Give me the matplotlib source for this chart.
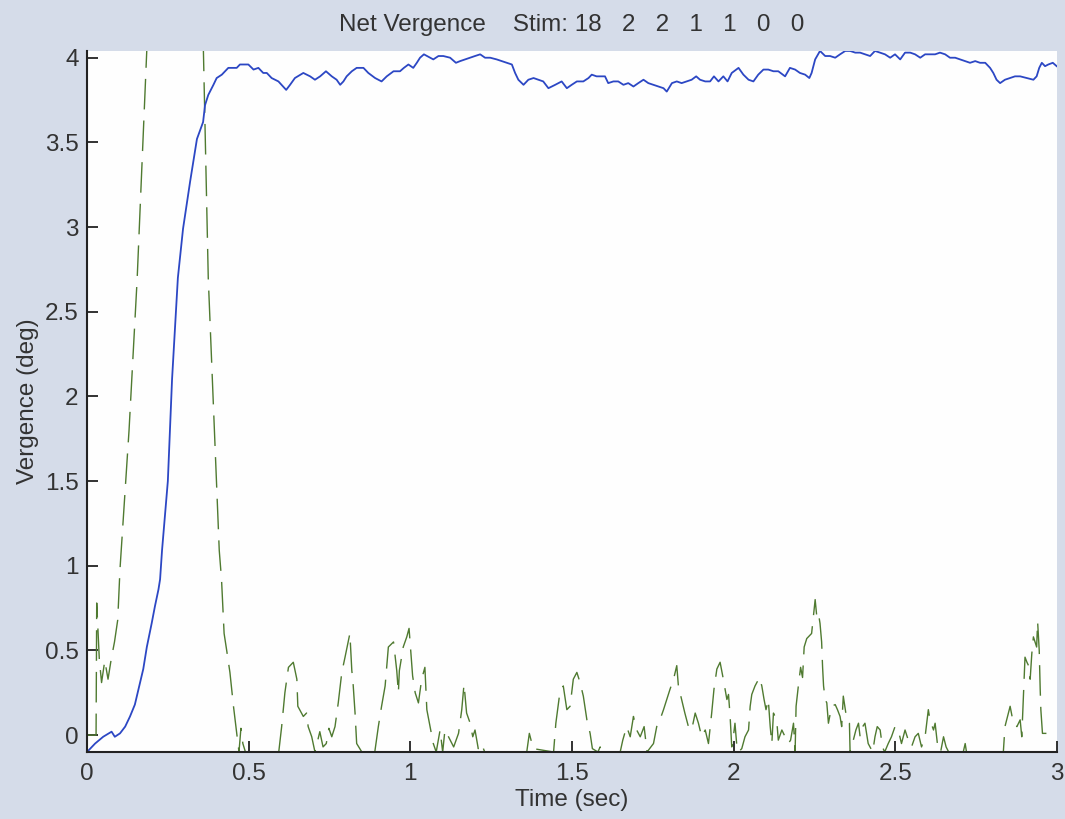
import matplotlib
matplotlib.use("Agg")
import matplotlib.pyplot as plt

# ---------------- data ----------------
title_text = "Net Vergence    Stim: 18   2   2   1   1   0   0"
x_label = "Time (sec)"
y_label = "Vergence (deg)"
x_ticks = [0, 0.5, 1, 1.5, 2, 2.5, 3]
x_tick_labels = ["0", "0.5", "1", "1.5", "2", "2.5", "3"]
y_ticks = [0, 0.5, 1, 1.5, 2, 2.5, 3, 3.5, 4]
y_tick_labels = ["0", "0.5", "1", "1.5", "2", "2.5", "3", "3.5", "4"]

# Net vergence (blue)
t_verg = [0.0, 0.025, 0.05, 0.076, 0.086, 0.102, 0.118, 0.133, 0.148, 0.164, 0.174, 0.185,
          0.2, 0.21, 0.221, 0.226, 0.232, 0.25, 0.263, 0.281, 0.297, 0.319, 0.34, 0.359,
          0.365, 0.375, 0.391, 0.401, 0.417, 0.427, 0.437, 0.463, 0.473, 0.499, 0.515,
          0.53, 0.545, 0.556, 0.571, 0.592, 0.616, 0.628, 0.643, 0.669, 0.69, 0.705,
          0.721, 0.739, 0.757, 0.772, 0.783, 0.793, 0.803, 0.819, 0.834, 0.855, 0.87,
          0.891, 0.911, 0.927, 0.948, 0.968, 0.98, 0.994, 1.009, 1.02, 1.03, 1.042,
          1.061, 1.071, 1.087, 1.102, 1.123, 1.141, 1.154, 1.169, 1.185, 1.2, 1.216,
          1.231, 1.247, 1.267, 1.283, 1.298, 1.314, 1.324, 1.334, 1.35, 1.365, 1.381,
          1.396, 1.411, 1.427, 1.448, 1.468, 1.484, 1.499, 1.515, 1.535, 1.551, 1.561,
          1.576, 1.602, 1.612, 1.628, 1.643, 1.659, 1.674, 1.69, 1.705, 1.721, 1.736,
          1.752, 1.767, 1.783, 1.793, 1.809, 1.824, 1.839, 1.855, 1.87, 1.884, 1.896,
          1.912, 1.927, 1.939, 1.953, 1.968, 1.981, 1.994, 2.015, 2.03, 2.046, 2.061,
          2.076, 2.092, 2.107, 2.123, 2.138, 2.159, 2.174, 2.19, 2.205, 2.221, 2.234,
          2.241, 2.252, 2.267, 2.283, 2.298, 2.314, 2.329, 2.345, 2.36, 2.376, 2.391,
          2.406, 2.422, 2.437, 2.453, 2.468, 2.484, 2.499, 2.515, 2.53, 2.546, 2.561,
          2.577, 2.592, 2.607, 2.623, 2.638, 2.654, 2.669, 2.685, 2.7, 2.716, 2.731,
          2.747, 2.762, 2.778, 2.793, 2.803, 2.813, 2.824, 2.839, 2.855, 2.87, 2.886,
          2.906, 2.927, 2.937, 2.945, 2.953, 2.963, 2.973, 2.987, 2.999]
verg = [-0.1, -0.05, -0.01, 0.02, -0.01, 0.01, 0.05, 0.11, 0.18, 0.31, 0.39, 0.52,
        0.66, 0.76, 0.86, 0.92, 1.09, 1.5, 2.1, 2.7, 2.99, 3.27, 3.52, 3.62,
        3.72, 3.78, 3.84, 3.88, 3.90, 3.92, 3.94, 3.94, 3.96, 3.96, 3.93,
        3.94, 3.91, 3.91, 3.88, 3.86, 3.81, 3.84, 3.88, 3.91, 3.89, 3.87,
        3.89, 3.92, 3.89, 3.87, 3.84, 3.86, 3.89, 3.92, 3.94, 3.94, 3.91,
        3.88, 3.86, 3.89, 3.92, 3.92, 3.94, 3.96, 3.94, 3.97, 4.00, 4.02,
        4.00, 3.99, 4.01, 4.01, 4.00, 3.97, 3.98, 3.99, 4.00, 4.01, 4.02,
        4.00, 4.00, 3.99, 3.98, 3.97, 3.96, 3.91, 3.87, 3.84, 3.87, 3.88,
        3.87, 3.86, 3.82, 3.84, 3.86, 3.82, 3.84, 3.86, 3.86, 3.88, 3.90,
        3.89, 3.89, 3.85, 3.86, 3.86, 3.84, 3.85, 3.83, 3.85, 3.87, 3.85,
        3.84, 3.83, 3.82, 3.80, 3.85, 3.86, 3.85, 3.86, 3.87, 3.89, 3.87,
        3.86, 3.86, 3.89, 3.86, 3.89, 3.86, 3.91, 3.94, 3.90, 3.87, 3.86,
        3.90, 3.93, 3.93, 3.92, 3.92, 3.89, 3.94, 3.93, 3.91, 3.90, 3.88,
        3.91, 3.99, 4.04, 4.01, 4.01, 4.00, 4.02, 4.04, 4.04, 4.03, 4.03,
        4.02, 4.01, 4.04, 4.03, 4.02, 4.00, 4.02, 3.99, 4.03, 4.03, 4.02,
        4.00, 4.02, 4.02, 4.02, 4.03, 4.02, 4.00, 4.00, 3.99, 3.98, 3.97,
        3.98, 3.97, 3.97, 3.94, 3.91, 3.87, 3.85, 3.87, 3.88, 3.89, 3.89,
        3.88, 3.87, 3.89, 3.94, 3.97, 3.95, 3.96, 3.97, 3.95]

# Vergence velocity trace (green dashed, clipped at the axes)
t_vel = [0.0, 0.028, 0.03, 0.038, 0.045, 0.055, 0.065, 0.075, 0.085, 0.095, 0.102, 0.13,
         0.155, 0.185, 0.27, 0.36, 0.375, 0.409, 0.416, 0.424, 0.432, 0.442, 0.453,
         0.463, 0.47, 0.476, 0.482, 0.49, 0.593, 0.602, 0.612, 0.623, 0.638, 0.649,
         0.652, 0.669, 0.679, 0.684, 0.695, 0.705, 0.72, 0.73, 0.74, 0.748, 0.757,
         0.767, 0.777, 0.788, 0.798, 0.813, 0.819, 0.822, 0.829, 0.834, 0.85, 0.89,
         0.901, 0.911, 0.922, 0.932, 0.948, 0.958, 0.963, 0.966, 0.978, 0.989, 0.996,
         1.002, 1.007, 1.015, 1.025, 1.035, 1.045, 1.051, 1.061, 1.071, 1.08, 1.092,
         1.1, 1.107, 1.118, 1.134, 1.149, 1.159, 1.166, 1.174, 1.185, 1.193, 1.2,
         1.21, 1.22, 1.23, 1.36, 1.368, 1.38, 1.443, 1.45, 1.461, 1.473, 1.484,
         1.494, 1.504, 1.515, 1.525, 1.535, 1.546, 1.556, 1.563, 1.58, 1.587, 1.595,
         1.649, 1.657, 1.669, 1.68, 1.69, 1.70, 1.711, 1.723, 1.732, 1.752, 1.762,
         1.772, 1.783, 1.793, 1.803, 1.814, 1.824, 1.829, 1.839, 1.849, 1.86, 1.87,
         1.881, 1.891, 1.901, 1.912, 1.922, 1.932, 1.939, 1.948, 1.958, 1.968, 1.979,
         1.984, 1.989, 1.994, 1.999, 2.004, 2.01, 2.015, 2.025, 2.035, 2.046, 2.051,
         2.056, 2.066, 2.08, 2.087, 2.094, 2.10, 2.107, 2.113, 2.118, 2.123, 2.133,
         2.138, 2.149, 2.159, 2.169, 2.176, 2.185, 2.19, 2.193, 2.2, 2.207, 2.213,
         2.218, 2.226, 2.241, 2.252, 2.257, 2.262, 2.267, 2.272, 2.275, 2.278, 2.283,
         2.288, 2.293, 2.303, 2.314, 2.321, 2.329, 2.334, 2.339, 2.35, 2.358, 2.36,
         2.37, 2.378, 2.386, 2.391, 2.399, 2.406, 2.416, 2.43, 2.437, 2.444, 2.453,
         2.46, 2.467, 2.478, 2.488, 2.499, 2.509, 2.519, 2.53, 2.54, 2.55, 2.561,
         2.571, 2.581, 2.592, 2.602, 2.607, 2.618, 2.623, 2.63, 2.64, 2.649, 2.657,
         2.665, 2.71, 2.716, 2.72, 2.834, 2.839, 2.855, 2.865, 2.876, 2.886, 2.891,
         2.896, 2.901, 2.907, 2.912, 2.917, 2.922, 2.927, 2.937, 2.94, 2.945, 2.948,
         2.95, 2.955, 2.968]
vel = [0.0, 0.0, 0.78, 0.45, 0.31, 0.44, 0.33, 0.45, 0.55, 0.68, 0.98, 1.8,
       2.69, 4.05, 9.0, 4.04, 2.7, 1.09, 0.92, 0.60, 0.50, 0.37, 0.17,
       0.01, -0.1, 0.04, -0.05, -0.1, -0.1, 0.05, 0.25, 0.40, 0.43, 0.33,
       0.17, 0.11, 0.13, 0.05, -0.01, -0.1, 0.02, -0.07, -0.05, 0.04, -0.01,
       0.05, 0.19, 0.37, 0.46, 0.60, 0.38, 0.33, 0.13, -0.05, -0.1, -0.1,
       0.05, 0.17, 0.29, 0.52, 0.55, 0.38, 0.25, 0.38, 0.52, 0.58, 0.63,
       0.48, 0.35, 0.25, 0.19, 0.33, 0.40, 0.15, 0.05, -0.05, -0.1, 0.03,
       -0.1, 0.03, -0.01, -0.07, 0.01, 0.15, 0.30, 0.13, 0.07, -0.01, 0.03,
       -0.08, -0.05, -0.1, -0.1, 0.01, -0.08, -0.1, 0.07, 0.23, 0.29, 0.15,
       0.17, 0.33, 0.37, 0.31, 0.23, 0.09, 0.01, -0.08, -0.1, -0.07, -0.1,
       -0.1, -0.03, 0.05, -0.01, 0.11, 0.03, -0.01, 0.05, -0.1, -0.05, 0.05,
       0.09, 0.15, 0.21, 0.27, 0.33, 0.41, 0.29, 0.21, 0.13, 0.05, 0.03,
       0.13, 0.07, -0.01, 0.03, -0.05, 0.13, 0.27, 0.39, 0.43, 0.33, 0.21,
       0.24, 0.11, -0.07, -0.01, 0.07, -0.07, -0.1, -0.08, -0.01, 0.03, 0.17,
       0.24, 0.29, 0.34, 0.29, 0.21, 0.15, 0.21, 0.05, -0.05, 0.13, 0.09,
       -0.03, 0.03, -0.01, -0.05, -0.03, 0.07, -0.1, 0.17, 0.29, 0.40, 0.34,
       0.52, 0.57, 0.60, 0.80, 0.70, 0.72, 0.66, 0.55, 0.40, 0.29, 0.21,
       0.19, 0.07, 0.17, 0.18, 0.15, 0.11, 0.05, 0.23, 0.09, 0.07, -0.1,
       -0.03, 0.03, 0.07, -0.01, 0.05, 0.07, -0.05, -0.1, -0.01, 0.05, 0.03,
       -0.07, -0.1, -0.05, -0.01, 0.05, 0.03, -0.05, 0.03, -0.03, -0.07, -0.01,
       0.01, -0.07, -0.01, 0.15, 0.09, 0.03, 0.07, -0.05, -0.1, -0.01, -0.07,
       -0.1, -0.1, -0.05, -0.1, -0.1, 0.05, 0.17, 0.07, 0.05, 0.09, -0.01,
       0.23, 0.46, 0.43, 0.41, 0.33, 0.48, 0.58, 0.52, 0.67, 0.50, 0.27,
       0.15, 0.01, 0.01]

# ---------------- drawing ----------------
FIG_BG = "#d5dce9"
BLUE = "#2c47c4"
GREEN = "#4f7a30"
FONT = ["Liberation Sans", "DejaVu Sans"]

plt.rcParams["font.family"] = FONT

fig = plt.figure(figsize=(10.65, 8.19), dpi=100, facecolor=FIG_BG)
ax = fig.add_axes([0.0817, 0.0818, 0.9108, 0.856])
ax.set_facecolor("#fefefe")

ax.plot(t_vel, vel, color=GREEN, linewidth=1.0, linestyle=(0, (22, 8)))
ax.plot(t_verg, verg, color=BLUE, linewidth=1.3)

ax.set_xlim(0, 3)
ax.set_ylim(-0.1, 4.04)
ax.set_xticks(x_ticks)
ax.set_xticklabels(x_tick_labels)
ax.set_yticks(y_ticks)
ax.set_yticklabels(y_tick_labels)

for s in ("top", "right"):
    ax.spines[s].set_visible(False)
for s in ("left", "bottom"):
    ax.spines[s].set_color("#222222")
    ax.spines[s].set_linewidth(1.5)

ax.tick_params(direction="in", length=8, width=1.3, colors="#222222",
               labelsize=17.5, labelcolor="#333333")
ax.tick_params(axis="y", pad=6)
ax.tick_params(axis="x", pad=8)

ax.set_title(title_text, fontsize=17.5, color="#333333", pad=14)
ax.set_xlabel(x_label, fontsize=17.5, color="#333333", labelpad=3)
ax.set_ylabel(y_label, fontsize=17.5, color="#333333", labelpad=4)

fig.savefig("out.png", dpi=100, facecolor=FIG_BG)
